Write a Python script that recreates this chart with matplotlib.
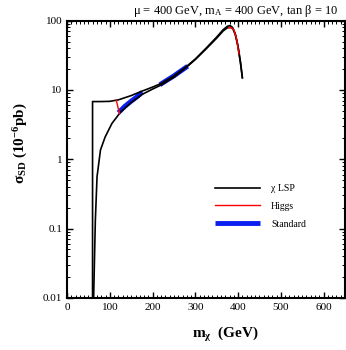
import numpy as np
import matplotlib
matplotlib.use("Agg")
import matplotlib.pyplot as plt
from matplotlib.ticker import FixedLocator, MultipleLocator, LogLocator, NullFormatter

plt.rcParams['font.family'] = 'Liberation Serif'
plt.rcParams['mathtext.fontset'] = 'custom'
plt.rcParams['mathtext.rm'] = 'Liberation Serif'
plt.rcParams['mathtext.it'] = 'Liberation Serif:italic'
plt.rcParams['mathtext.bf'] = 'Liberation Serif:bold'

# upper black branch (neutralino LSP)
m_up = [59.5, 59.5, 80, 100, 120, 150, 175, 200, 220, 250, 280, 300, 325, 350, 365, 375, 381, 387, 393, 399, 405, 410]
s_up = [0.01, 6.8, 6.8, 6.85, 7.2, 8.3, 9.6, 11.0, 12.4, 16.0, 22.0, 28.0, 40.0, 58.0, 74.0, 83.0, 85.0, 80.0, 65.0, 45.0, 26.0, 15.0]

# lower black branch
m_lo = [62, 66, 70, 78, 89, 105, 118, 125, 150, 175, 200, 220, 250, 282, 300, 325, 350, 365, 375, 382, 388, 394, 400, 406, 410]
s_lo = [0.01, 0.13, 0.56, 1.36, 2.1, 3.3, 4.2, 4.8, 6.6, 8.6, 10.3, 11.8, 15.3, 22.0, 27.5, 39.0, 56.0, 71.0, 79.0, 80.0, 76.0, 62.0, 42.0, 24.0, 15.0]

# Higgs (red) pieces
m_h1 = [115, 119, 123]
s_h1 = [7.1, 5.6, 4.6]
m_h2 = [378, 384, 390, 396, 402]
s_h2 = [79.0, 79.5, 74.0, 56.0, 33.0]

# standard (blue) pieces
m_s1 = [120, 135, 150, 165, 176]
s_s1 = [4.7, 5.8, 6.9, 8.1, 9.3]
m_s2 = [217, 235, 250, 265, 282]
s_s2 = [11.9, 14.0, 16.0, 18.6, 22.0]

fig = plt.figure(figsize=(3.46, 3.50), dpi=100)
ax = fig.add_axes([0.194, 0.149, 0.803, 0.792])

ax.plot(m_s1, s_s1, color='#0a1ef0', lw=3.5, solid_capstyle='butt', label='Standard')
ax.plot(m_s2, s_s2, color='#0a1ef0', lw=3.5, solid_capstyle='butt')
ax.plot(m_up, s_up, color='black', lw=1.2, label='χ LSP')
ax.plot(m_lo, s_lo, color='black', lw=1.2)
ax.plot(m_h1, s_h1, color='red', lw=1.0, label='Higgs')
ax.plot(m_h2, s_h2, color='red', lw=1.0)

ax.set_yscale('log')
ax.set_xlim(0, 650)
ax.set_ylim(0.01, 100)

ax.xaxis.set_major_locator(FixedLocator([0, 100, 200, 300, 400, 500, 600]))
ax.xaxis.set_minor_locator(MultipleLocator(10))
ax.yaxis.set_major_locator(FixedLocator([0.01, 0.1, 1, 10, 100]))
ax.yaxis.set_minor_locator(LogLocator(base=10, subs=np.arange(2, 10)))
ax.yaxis.set_minor_formatter(NullFormatter())
ax.set_yticklabels(['0.01', '0.1', '1', '10', '100'])

ax.tick_params(which='both', direction='in', top=True, right=True, labelsize=8)
ax.tick_params(which='major', length=4, width=1)
ax.tick_params(which='minor', length=2, width=0.7)
for sp in ax.spines.values():
    sp.set_linewidth(1.5)

ax.set_xlabel(r'm$_{\mathbf{χ}}$  (GeV)', fontsize=11, fontweight='bold')
ax.xaxis.set_label_coords(0.568, -0.098)
ax.set_ylabel(r'σ$_{\mathbf{SD}}$ (10$^{\mathbf{-6}}$pb)', fontsize=11, fontweight='bold')
ax.yaxis.set_label_coords(-0.135, 0.56)
fig.text(0.977, 0.968, r'μ = 400 GeV, m$_{\mathrm{A}}$ = 400 GeV, tan β = 10',
         ha='right', va='center', fontsize=9)

h, l = ax.get_legend_handles_labels()
order = [1, 2, 0]
ax.legend([h[i] for i in order], [l[i] for i in order], loc='center left',
          bbox_to_anchor=(0.5, 0.33), frameon=False, fontsize=7,
          handlelength=4.6, labelspacing=0.9, handletextpad=1.2)

fig.savefig('out.png', dpi=100)
